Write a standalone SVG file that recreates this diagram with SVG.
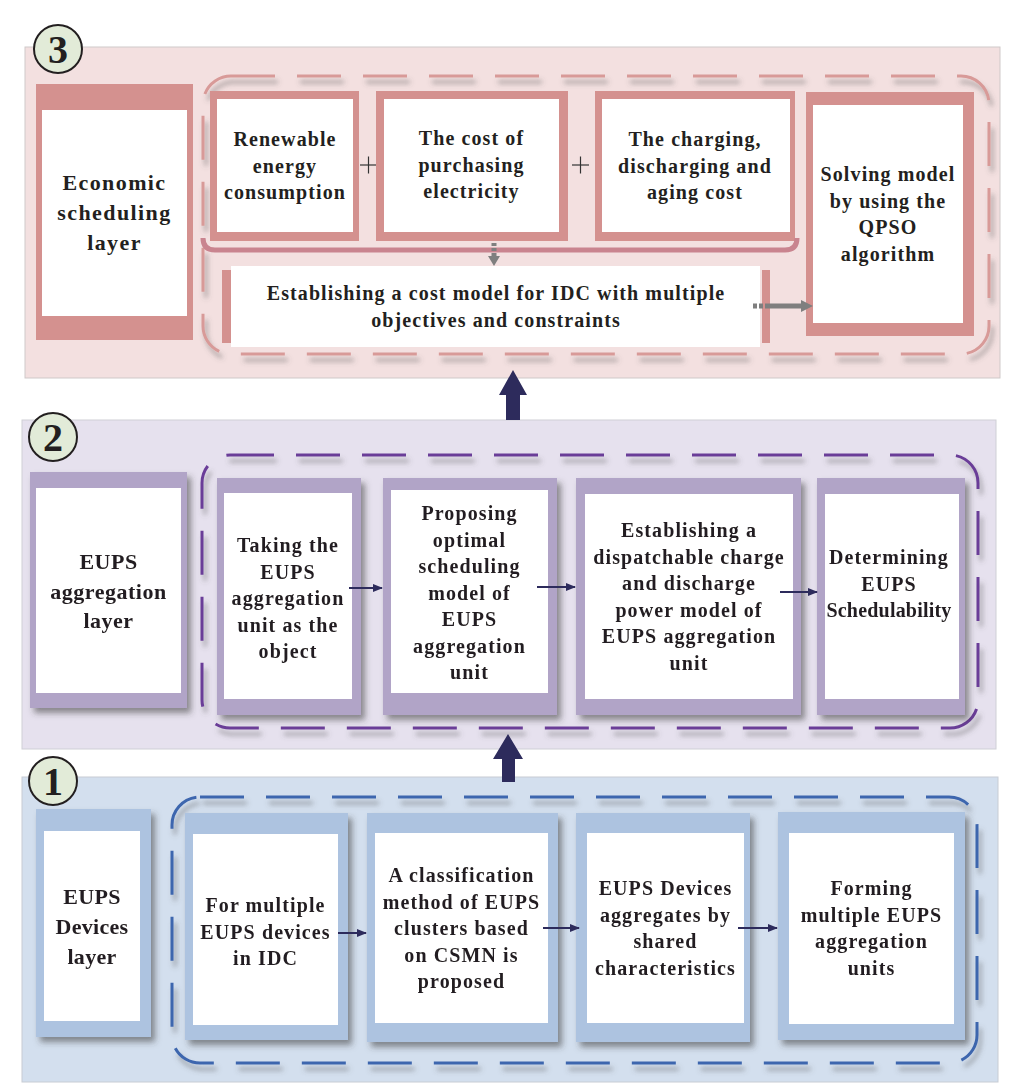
<svg xmlns="http://www.w3.org/2000/svg" width="1036" height="1091" viewBox="0 0 1036 1091">
<style>
.t{font-family:"Liberation Serif","Times New Roman",serif;font-weight:bold;font-size:20px;fill:#231f20;text-anchor:middle;letter-spacing:1.1px}
.h{font-size:22px}
.num{font-family:"Liberation Serif","Times New Roman",serif;font-weight:bold;font-size:40px;fill:#231f20;text-anchor:middle}
.circ{fill:#e2ebd8;stroke:#231f20;stroke-width:2}
.pk{fill:#d4918f}
.pu{fill:#b1a4c7}
.bl{fill:#adc3e0}
.w{fill:#ffffff}
.nav{stroke:#2d2b5c;stroke-width:2;fill:none}
.plus{stroke:#333;stroke-width:1.2}
</style>
<defs>
<filter id="sh" x="-15%" y="-15%" width="140%" height="140%"><feDropShadow dx="4" dy="5" stdDeviation="3" flood-color="#3a3a3a" flood-opacity="0.55"/></filter>
<filter id="dsh" x="-5%" y="-5%" width="115%" height="120%"><feDropShadow dx="3" dy="6" stdDeviation="2.5" flood-color="#555" flood-opacity="0.5"/></filter>
<marker id="ah" markerWidth="10" markerHeight="8" refX="9" refY="4" orient="auto" markerUnits="userSpaceOnUse"><path d="M0,0 L10,4 L0,8 z" fill="#2d2b5c"/></marker>
</defs>

<!-- layer backgrounds -->
<g id="layer3-bg"><rect x="25" y="47" width="975" height="331" fill="#f3e0e0" stroke="#cfc9c9" stroke-width="1"/></g>
<g id="layer2-bg"><rect x="22" y="420" width="974" height="329" fill="#e6e1ee" stroke="#cfcfd6" stroke-width="1"/></g>
<g id="layer1-bg"><rect x="22" y="777" width="976" height="305" fill="#d3dfee" stroke="#c7ccd4" stroke-width="1"/></g>

<!-- circles -->
<g id="badge3"><circle class="circ" cx="58" cy="49" r="24"/><text class="num" x="58" y="63">3</text></g>
<g id="badge2"><circle class="circ" cx="53" cy="437" r="24"/><text class="num" x="53" y="451">2</text></g>
<g id="badge1"><circle class="circ" cx="53" cy="781" r="24"/><text class="num" x="53" y="795">1</text></g>

<!-- dashed containers -->
<g id="container3"><rect x="203" y="76" width="786" height="278" rx="28" fill="none" stroke="#d89a98" stroke-width="3" stroke-dasharray="44 22" filter="url(#dsh)"/></g>
<g id="container2"><rect x="202" y="455" width="776" height="273" rx="28" fill="none" stroke="#6b3e98" stroke-width="3" stroke-dasharray="44 22" filter="url(#dsh)"/></g>
<g id="container1"><rect x="172" y="797" width="805" height="266" rx="28" fill="none" stroke="#3d66ae" stroke-width="3" stroke-dasharray="44 22" filter="url(#dsh)"/></g>

<!-- Layer 3 nodes -->
<g id="economic-layer">
<rect class="pk" x="36" y="84" width="157" height="256"/>
<rect class="w" x="42" y="110" width="145" height="206"/>
<text class="t h" style="letter-spacing:1.4px" x="114.5" y="190">Economic</text>
<text class="t h" style="letter-spacing:1.4px" x="114.5" y="220">scheduling</text>
<text class="t h" style="letter-spacing:1.4px" x="114.5" y="250">layer</text>
</g>
<g id="renewable">
<rect class="pk" x="210" y="91" width="149" height="150"/>
<rect class="w" x="217" y="99" width="136" height="133"/>
<text class="t" x="285" y="146">Renewable</text>
<text class="t" x="285" y="172.5">energy</text>
<text class="t" x="285" y="199">consumption</text>
</g>
<g id="plus1"><line class="plus" x1="360" y1="165" x2="377" y2="165"/><line class="plus" x1="368.5" y1="156.5" x2="368.5" y2="173.5"/></g>
<g id="cost-purchase">
<rect class="pk" x="376" y="91" width="192" height="150"/>
<rect class="w" x="384" y="99" width="175" height="133"/>
<text class="t" x="471.5" y="145">The cost of</text>
<text class="t" x="471.5" y="171.5">purchasing</text>
<text class="t" x="471.5" y="198">electricity</text>
</g>
<g id="plus2"><line class="plus" x1="572" y1="165" x2="589" y2="165"/><line class="plus" x1="580.5" y1="156.5" x2="580.5" y2="173.5"/></g>
<g id="charging-cost">
<rect class="pk" x="595" y="91" width="200" height="150"/>
<rect class="w" x="602" y="99" width="188" height="133"/>
<text class="t" x="695" y="146">The charging,</text>
<text class="t" x="695" y="172.5">discharging and</text>
<text class="t" x="695" y="199">aging cost</text>
</g>
<g id="cost-model">
<rect class="w" x="231" y="266" width="529" height="81"/>
<rect class="pk" x="222" y="270" width="9" height="73"/>
<rect class="pk" x="762" y="270" width="8" height="73"/>
<text class="t" x="496" y="300">Establishing a cost model for IDC with multiple</text>
<text class="t" x="496" y="326.5">objectives and constraints</text>
</g>
<g id="solving">
<rect class="pk" x="806" y="92" width="168" height="244"/>
<rect class="w" x="813" y="105" width="150" height="218"/>
<text class="t" x="888" y="181">Solving model</text>
<text class="t" x="888" y="207.5">by using the</text>
<text class="t" x="888" y="234">QPSO</text>
<text class="t" x="888" y="260.5">algorithm</text>
</g>

<!-- Layer 2 nodes -->
<g id="eups-aggregation-layer" filter="url(#sh)">
<rect class="pu" x="30" y="472" width="157" height="236"/>
<rect class="w" x="36" y="488" width="145" height="205"/>
<text class="t h" style="letter-spacing:0.5px" x="108.5" y="569">EUPS</text>
<text class="t h" style="letter-spacing:0.5px" x="108.5" y="598.5">aggregation</text>
<text class="t h" style="letter-spacing:0.5px" x="108.5" y="628">layer</text>
</g>
<g id="taking" filter="url(#sh)">
<rect class="pu" x="217" y="478" width="144" height="237"/>
<rect class="w" x="224" y="493" width="128" height="206"/>
<text class="t" x="288" y="552">Taking the</text>
<text class="t" x="288" y="578.5">EUPS</text>
<text class="t" x="288" y="605">aggregation</text>
<text class="t" x="288" y="631.5">unit as the</text>
<text class="t" x="288" y="658">object</text>
</g>
<g id="proposing" filter="url(#sh)">
<rect class="pu" x="383" y="478" width="174" height="237"/>
<rect class="w" x="391" y="490" width="157" height="203"/>
<text class="t" x="469.5" y="520">Proposing</text>
<text class="t" x="469.5" y="546.5">optimal</text>
<text class="t" x="469.5" y="573">scheduling</text>
<text class="t" x="469.5" y="599.5">model of</text>
<text class="t" x="469.5" y="626">EUPS</text>
<text class="t" x="469.5" y="652.5">aggregation</text>
<text class="t" x="469.5" y="679">unit</text>
</g>
<g id="dispatchable" filter="url(#sh)">
<rect class="pu" x="576" y="478" width="225" height="237"/>
<rect class="w" x="585" y="494" width="208" height="205"/>
<text class="t" x="689" y="537">Establishing a</text>
<text class="t" x="689" y="563.5">dispatchable charge</text>
<text class="t" x="689" y="590">and discharge</text>
<text class="t" x="689" y="616.5">power model of</text>
<text class="t" x="689" y="643">EUPS aggregation</text>
<text class="t" x="689" y="669.5">unit</text>
</g>
<g id="determining" filter="url(#sh)">
<rect class="pu" x="817" y="478" width="148" height="237"/>
<rect class="w" x="825" y="494" width="134" height="205"/>
<text class="t" x="889" y="564">Determining</text>
<text class="t" x="889" y="590.5">EUPS</text>
<text class="t" style="letter-spacing:0.2px" x="889" y="617">Schedulability</text>
</g>

<!-- Layer 1 nodes -->
<g id="eups-devices-layer" filter="url(#sh)">
<rect class="bl" x="36" y="809" width="115" height="228"/>
<rect class="w" x="44" y="831" width="96" height="190"/>
<text class="t h" style="letter-spacing:0.3px" x="92" y="904">EUPS</text>
<text class="t h" style="letter-spacing:0.3px" x="92" y="934">Devices</text>
<text class="t h" style="letter-spacing:0.3px" x="92" y="964">layer</text>
</g>
<g id="multiple-devices" filter="url(#sh)">
<rect class="bl" x="185" y="813" width="163" height="227"/>
<rect class="w" x="193" y="834" width="145" height="191"/>
<text class="t" x="265.5" y="912">For multiple</text>
<text class="t" x="265.5" y="938.5">EUPS devices</text>
<text class="t" x="265.5" y="965">in IDC</text>
</g>
<g id="classification" filter="url(#sh)">
<rect class="bl" x="367" y="813" width="191" height="229"/>
<rect class="w" x="375" y="833" width="173" height="190"/>
<text class="t" x="461.5" y="882">A classification</text>
<text class="t" x="461.5" y="908.5">method of EUPS</text>
<text class="t" x="461.5" y="935">clusters based</text>
<text class="t" x="461.5" y="961.5">on CSMN is</text>
<text class="t" x="461.5" y="988">proposed</text>
</g>
<g id="aggregates" filter="url(#sh)">
<rect class="bl" x="576" y="813" width="174" height="229"/>
<rect class="w" x="587" y="833" width="157" height="190"/>
<text class="t" x="665.5" y="895">EUPS Devices</text>
<text class="t" x="665.5" y="921.5">aggregates by</text>
<text class="t" x="665.5" y="948">shared</text>
<text class="t" x="665.5" y="974.5">characteristics</text>
</g>
<g id="forming" filter="url(#sh)">
<rect class="bl" x="778" y="812" width="187" height="228"/>
<rect class="w" x="789" y="833" width="165" height="191"/>
<text class="t" x="871.5" y="895">Forming</text>
<text class="t" x="871.5" y="921.5">multiple EUPS</text>
<text class="t" x="871.5" y="948">aggregation</text>
<text class="t" x="871.5" y="974.5">units</text>
</g>

<!-- connectors -->
<g id="connectors">
<path d="M203,238 Q203,250 215,250 L785,250 Q797,250 797,238" fill="none" stroke="#c9848f" stroke-width="5"/>
<line x1="494" y1="243" x2="494" y2="257" stroke="#7f7f7f" stroke-width="5" stroke-dasharray="3 2"/>
<polygon points="488,256 500,256 494,266" fill="#7f7f7f"/>
<line x1="753" y1="306" x2="768" y2="306" stroke="#7f7f7f" stroke-width="5" stroke-dasharray="4 2"/>
<line x1="768" y1="306" x2="802" y2="306" stroke="#7f7f7f" stroke-width="5"/>
<polygon points="801,300 813,306 801,312" fill="#7f7f7f"/>
<polygon points="513,370 527,395 520,395 520,420 506,420 506,395 499,395" fill="#2d2b5c"/>
<polygon points="508,734 523,759 515,759 515,782 502,782 502,759 493,759" fill="#2d2b5c"/>
<line class="nav" x1="349" y1="588" x2="382" y2="588" marker-end="url(#ah)"/>
<line class="nav" x1="537" y1="587" x2="575" y2="587" marker-end="url(#ah)"/>
<line class="nav" x1="780" y1="592" x2="817" y2="592" marker-end="url(#ah)"/>
<line class="nav" x1="338" y1="933" x2="366" y2="933" marker-end="url(#ah)"/>
<line class="nav" x1="543" y1="928" x2="579" y2="928" marker-end="url(#ah)"/>
<line class="nav" x1="738" y1="928" x2="777" y2="928" marker-end="url(#ah)"/>
</g>
</svg>
